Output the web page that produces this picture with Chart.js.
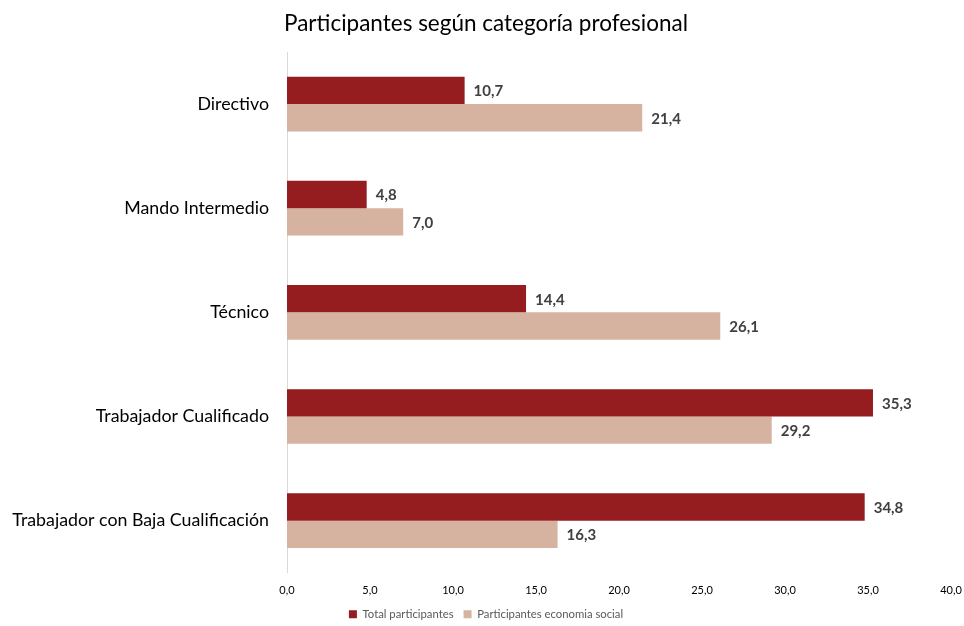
<!DOCTYPE html>
<html><head><meta charset="utf-8">
<script src="https://cdn.jsdelivr.net/npm/chart.js@4"></script>
<style>html,body{margin:0;padding:0;background:#fff}#wrap{width:964px;height:626px}</style>
</head><body><div id="wrap"><canvas id="c" width="964" height="626"></canvas></div>
<script>
const categories = ["Directivo","Mando Intermedio","Técnico","Trabajador Cualificado","Trabajador con Baja Cualificación"];
const totalParticipantes = [10.7, 4.8, 14.4, 35.3, 34.8];
const economiaSocial = [21.4, 7.0, 26.1, 29.2, 16.3];
const seriesNames = ["Total participantes","Participantes economia social"];
const titleText = "Participantes según categoría profesional";
const FONT = "Lato, 'Open Sans', sans-serif";
const fmt = v => v.toFixed(1).replace('.', ',');

const labelPlugin = {
  id: 'valLabels',
  afterDatasetsDraw(chart) {
    const ctx = chart.ctx;
    ctx.save();
    ctx.font = "bold 15px " + FONT;
    ctx.fillStyle = "#404040";
    ctx.textBaseline = "middle";
    ctx.textAlign = "left";
    chart.data.datasets.forEach((ds, i) => {
      chart.getDatasetMeta(i).data.forEach((bar, j) => {
        ctx.fillText(fmt(ds.data[j]), bar.x + 9, bar.y + 1);
      });
    });
    ctx.restore();
  }
};

new Chart(document.getElementById('c'), {
  type: 'bar',
  data: {
    labels: categories,
    datasets: [
      {label: seriesNames[0], data: totalParticipantes, backgroundColor: '#951d20'},
      {label: seriesNames[1], data: economiaSocial, backgroundColor: '#d6b3a0'}
    ]
  },
  options: {
    indexAxis: 'y',
    responsive: false,
    animation: false,
    devicePixelRatio: 1,
    layout: {padding: {left: 8, right: 0, top: 0, bottom: -4}},
    datasets: {bar: {categoryPercentage: 0.525, barPercentage: 1.0}},
    plugins: {
      title: {display: true, text: titleText, color: '#000', font: {family: FONT, size: 22.5, weight: 'normal'}, padding: {top: 10, bottom: 15}},
      legend: {position: 'bottom', labels: {color: '#595959', font: {family: FONT, size: 11.3}, boxWidth: 8, boxHeight: 8, padding: 10}},
      tooltip: {enabled: false}
    },
    scales: {
      x: {
        min: 0, max: 40,
        ticks: {stepSize: 5, color: '#000', font: {family: FONT, size: 11}, padding: 11, callback: v => fmt(v)},
        grid: {display: false, drawTicks: false},
        border: {display: false},
        afterFit(s) { s.height = 26; s.paddingRight = 13; }
      },
      y: {
        ticks: {color: '#000', font: {family: FONT, size: 17.8}, padding: 18},
        grid: {display: false, drawTicks: false},
        border: {display: true, color: '#d9d9d9', width: 1},
        afterFit(s) { s.width = 279; }
      }
    }
  },
  plugins: [labelPlugin]
});
</script></body></html>
